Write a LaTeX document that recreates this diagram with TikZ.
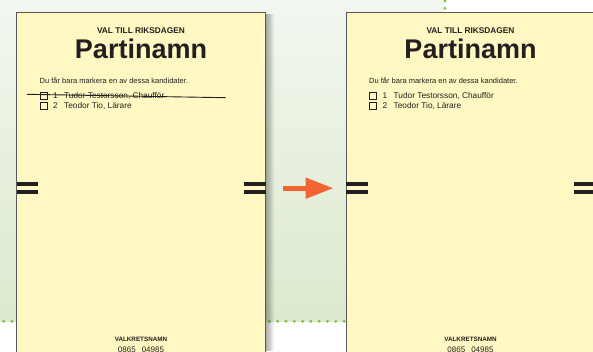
\documentclass[tikz,border=0pt]{standalone}
\usepackage{fontspec}
\setmainfont{Liberation Sans}
\usetikzlibrary{arrows.meta}
\definecolor{ballotyellow}{HTML}{FFF8C2}
\definecolor{ballotframe}{HTML}{58595B}
\definecolor{ink}{HTML}{231F20}
\definecolor{dotgreen}{HTML}{7DC242}
\definecolor{arroworange}{HTML}{F26531}
\definecolor{bgtop}{HTML}{F2F7F0}
\definecolor{bgbottom}{HTML}{DCE9CD}
\begin{document}
\begin{tikzpicture}[x=1pt,y=-1pt,
    header/.style={font=\bfseries\fontsize{8.3}{10}\selectfont,text=ink,inner sep=0pt,anchor=base},
    party/.style={font=\bfseries\fontsize{27}{30}\selectfont,text=ink,inner sep=0pt,anchor=base},
    smalltext/.style={font=\fontsize{7.5}{9}\selectfont,text=ink,inner sep=0pt,anchor=base west},
    candidate/.style={font=\fontsize{8.3}{10}\selectfont,text=ink,inner sep=0pt,anchor=base west},
    district/.style={font=\bfseries\fontsize{6.3}{8}\selectfont,text=ink,inner sep=0pt,anchor=base},
    codes/.style={font=\fontsize{8}{10}\selectfont,text=ink,inner sep=0pt,anchor=base},
    tickbox/.style={draw=ink,line width=0.8pt},
    bar/.style={fill=ink},
    greendot/.style={fill=dotgreen}]
  \useasboundingbox (0,0) rectangle (593,351);
  \clip (0,0) rectangle (593,351);
  % background
  \fill[white] (0,0) rectangle (593,351);
  \shade[top color=bgtop,bottom color=bgbottom] (0,0) rectangle (445,321.3);
  \foreach \x in {0,...,71}
    \fill[greendot] (3.8+8.3*\x,321.3) circle (1.6);
  \foreach \y in {0,1}
    \fill[greendot] (445,1+7.3*\y) circle (1.6);
  % shadow of the first ballot
  \foreach \i in {1,...,9}
    \fill[black,opacity=0.045] (16.5,14) rectangle (265+\i,351);
  % ballots
  \foreach \side/\bx in {l/16.5,r/346}{
    \draw[fill=ballotyellow,draw=ballotframe,line width=1pt] (\bx,12.5) rectangle (\bx+248.5,360);
    \node[header] (title-\side) at (\bx+124.5,33) {VAL TILL RIKSDAGEN};
    \node[party] (party-\side) at (\bx+124.5,58) {Partinamn};
    \node[smalltext] (info-\side) at (\bx+23,83.5) {Du får bara markera en av dessa kandidater.};
    \draw[tickbox] (\bx+23.5,92) rectangle (\bx+30.5,99);
    \node[candidate] (first-\side) at (\bx+36.5,98.6) {\makebox[11pt][l]{1}Tudor Testorsson, Chaufför};
    \draw[tickbox] (\bx+23.5,102) rectangle (\bx+30.5,109);
    \node[candidate] (second-\side) at (\bx+36.5,108.6) {\makebox[11pt][l]{2}Teodor Tio, Lärare};
    \node[district] (district-\side) at (\bx+124.5,341.6) {VALKRETSNAMN};
    \node[codes] (codes-\side) at (\bx+124.5,352) {0865\hspace{6pt}04985};
    \fill[bar] (\bx,182) rectangle (\bx+21.5,185.7);
    \fill[bar] (\bx,190) rectangle (\bx+21.5,193.7);
    \fill[bar] (\bx+227.5,182) rectangle (\bx+249,185.7);
    \fill[bar] (\bx+227.5,190) rectangle (\bx+249,193.7);
  }
  % struck out name
  \coordinate (strikestart) at (27,94.3);
  \coordinate (strikeend) at (225.7,97.7);
  \draw[ink,line width=0.9pt] (strikestart) -- (strikeend);
  % arrow
  \coordinate (arrowtail) at (283.3,188.2);
  \coordinate (arrowtip) at (333.5,188.2);
  \draw[arroworange,line width=5pt,-{Triangle[length=28pt,width=20pt]}] (arrowtail) -- (arrowtip);
\end{tikzpicture}
\end{document}
